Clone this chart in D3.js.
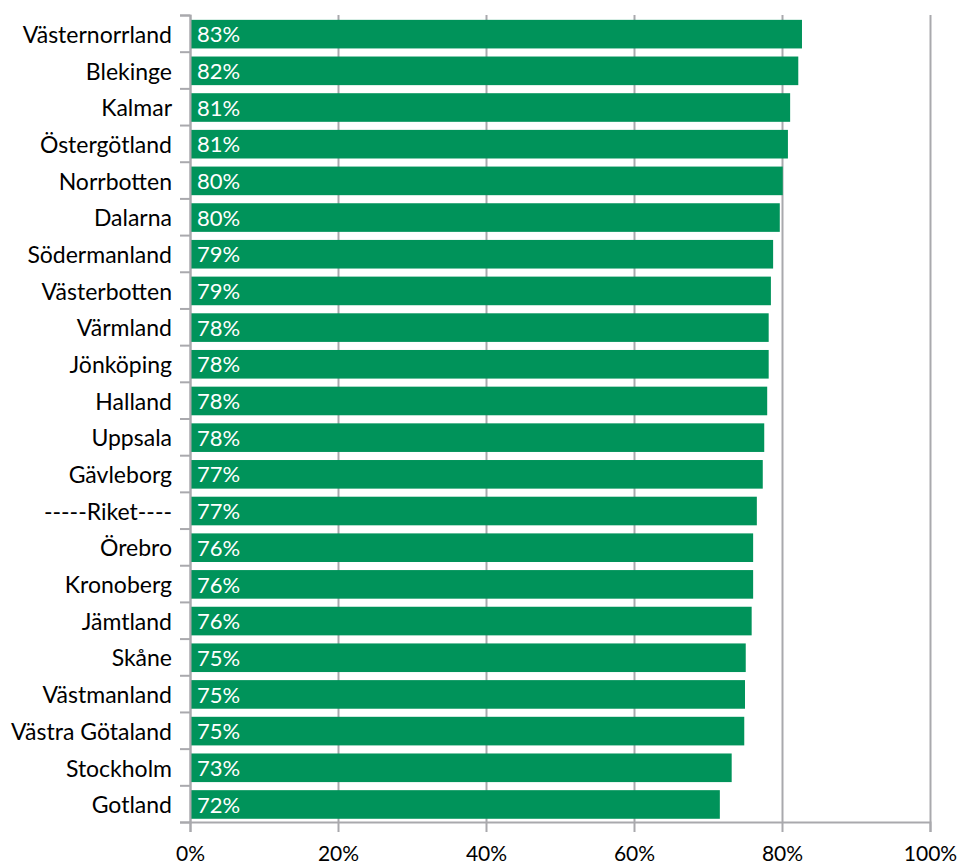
<!DOCTYPE html>
<html>
<head>
<meta charset="utf-8">
<script src="https://cdn.jsdelivr.net/npm/d3@7"></script>
<style>
  html, body { margin: 0; padding: 0; background: #fff; }
  svg { display: block; }
  text { font-family: Lato, "Open Sans", sans-serif; }
</style>
</head>
<body>
<svg id="chart" width="958" height="866"></svg>
<script>
// Regions ordered from highest to lowest share
const regions = [
  "Västernorrland", "Blekinge", "Kalmar", "Östergötland", "Norrbotten",
  "Dalarna", "Södermanland", "Västerbotten", "Värmland", "Jönköping",
  "Halland", "Uppsala", "Gävleborg", "-----Riket----", "Örebro",
  "Kronoberg", "Jämtland", "Skåne", "Västmanland", "Västra Götaland",
  "Stockholm", "Gotland"
];
const shares = [
  0.827, 0.822, 0.811, 0.808, 0.801,
  0.797, 0.788, 0.785, 0.782, 0.782,
  0.780, 0.776, 0.774, 0.766, 0.761,
  0.761, 0.759, 0.751, 0.750, 0.749,
  0.732, 0.716
];
const xTicks = [0, 0.2, 0.4, 0.6, 0.8, 1.0];

const data = regions.map((r, i) => ({ region: r, value: shares[i] }));

const W = 958, H = 866;
const margin = { top: 15, right: 28, bottom: 44, left: 190 };
const innerW = W - margin.left - margin.right;
const innerH = H - margin.top - margin.bottom;

const svg = d3.select("#chart");
const g = svg.append("g").attr("transform", `translate(${margin.left},${margin.top})`);

const x = d3.scaleLinear().domain([0, 1]).range([0, innerW]);
const y = d3.scaleBand().domain(regions).range([0, innerH])
  .paddingInner(0.22).paddingOuter(0.11).align(0.6);
// category boundaries for the left axis ticks
const yEdge = d3.scaleLinear().domain([0, regions.length]).range([0, innerH]);

const gridColor = "#a9a9ad";
const pct = d3.format(".0%");

// vertical gridlines
const grid = g.append("g")
  .call(d3.axisBottom(x).tickValues(xTicks).tickSize(-innerH).tickFormat(""))
  .attr("transform", `translate(0,${innerH})`);
grid.select(".domain").remove();
grid.selectAll(".tick line").attr("stroke", gridColor).attr("stroke-width", 2);

// bars
g.append("g").selectAll("rect")
  .data(data)
  .join("rect")
  .attr("x", x(0))
  .attr("y", d => y(d.region))
  .attr("width", d => x(d.value) - x(0))
  .attr("height", y.bandwidth())
  .attr("fill", "#00935a");

// value labels inside the bars
g.append("g").selectAll("text")
  .data(data)
  .join("text")
  .attr("x", x(0) + 7)
  .attr("y", d => y(d.region) + y.bandwidth() / 2)
  .attr("dy", "0.37em")
  .attr("fill", "#fff")
  .attr("font-size", 22)
  .text(d => pct(d.value));

// left axis: line with ticks between categories
const yAxis = g.append("g")
  .call(d3.axisLeft(yEdge).tickValues(d3.range(regions.length + 1)).tickSize(10).tickFormat(""));
yAxis.selectAll(".domain").attr("stroke", gridColor).attr("stroke-width", 2);
yAxis.selectAll(".tick line").attr("stroke", gridColor).attr("stroke-width", 2);

// category labels
g.append("g").selectAll("text")
  .data(regions)
  .join("text")
  .attr("x", -18)
  .attr("y", d => y(d) + y.bandwidth() / 2)
  .attr("dy", "0.38em")
  .attr("text-anchor", "end")
  .attr("fill", "#000")
  .attr("font-size", 23)
  .text(d => d);

// bottom axis
const xAxis = g.append("g")
  .attr("transform", `translate(0,${innerH})`)
  .call(d3.axisBottom(x).tickValues(xTicks).tickSize(10).tickPadding(14).tickFormat(pct));
xAxis.selectAll(".domain").attr("stroke", gridColor).attr("stroke-width", 2);
xAxis.selectAll(".tick line").attr("stroke", gridColor).attr("stroke-width", 2);
xAxis.selectAll(".tick text")
  .attr("fill", "#000")
  .attr("font-size", 21)
  .attr("font-family", "Lato, 'Open Sans', sans-serif");
</script>
</body>
</html>
